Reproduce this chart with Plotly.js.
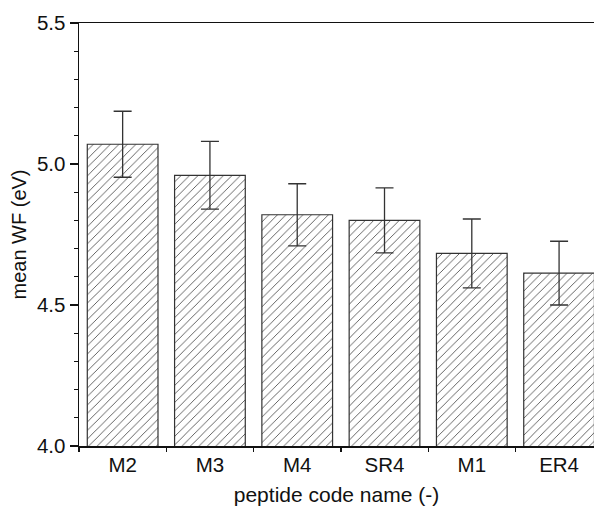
<!DOCTYPE html>
<html>
<head>
<meta charset="utf-8">
<script src="https://cdn.plot.ly/plotly-3.0.1.min.js"></script>
<style>html,body{margin:0;padding:0;background:#fff;}#chart{width:594px;height:510px;}</style>
</head>
<body>
<div id="chart"></div>
<script>
const categories = ["M2", "M3", "M4", "SR4", "M1", "ER4"];
const meanWF = [5.07, 4.96, 4.82, 4.80, 4.683, 4.613];
const errWF = [0.117, 0.12, 0.11, 0.115, 0.122, 0.113];

const trace = {
  type: 'bar',
  x: categories,
  y: meanWF,
  width: 0.81,
  marker: {
    color: '#ffffff',
    line: {color: '#333333', width: 1.2},
    pattern: {shape: '/', fgcolor: '#555555', bgcolor: '#ffffff', size: 6, solidity: 0.15}
  },
  error_y: {type: 'data', array: errWF, visible: true, color: '#333333', thickness: 1.3, width: 9},
  hoverinfo: 'skip'
};

const fontFam = 'Liberation Sans, Arial, sans-serif';
const layout = {
  width: 594, height: 510,
  margin: {l: 79, r: 0, t: 23, b: 64, pad: 0},
  paper_bgcolor: '#ffffff', plot_bgcolor: '#ffffff',
  showlegend: false,
  font: {family: fontFam, color: '#111111', size: 20},
  xaxis: {
    type: 'category',
    range: [-0.5, 5.4],
    tickson: 'boundaries',
    ticks: 'outside', ticklen: 4, tickcolor: '#111', tickwidth: 1.3,
    showline: true, linecolor: '#111', linewidth: 1.5, mirror: true,
    showgrid: false, zeroline: false,
    tickfont: {size: 20.5, family: fontFam},
    title: {text: 'peptide code name (-)', font: {size: 21, family: fontFam}, standoff: 12}
  },
  yaxis: {
    range: [4.0, 5.5],
    dtick: 0.5, tick0: 4.0, tickformat: '.1f',
    ticks: 'outside', ticklen: 8, tickcolor: '#111', tickwidth: 1.3,
    minor: {dtick: 0.1, ticks: 'outside', ticklen: 4, tickcolor: '#111', tickwidth: 1.2, showgrid: false},
    showline: true, linecolor: '#111', linewidth: 1.5, mirror: false,
    showgrid: false, zeroline: false,
    tickfont: {size: 20.5, family: fontFam},
    title: {text: 'mean WF (eV)', font: {size: 20, family: fontFam}, standoff: 5}
  }
};

Plotly.newPlot('chart', [trace], layout, {staticPlot: true, displayModeBar: false});
</script>
</body>
</html>
